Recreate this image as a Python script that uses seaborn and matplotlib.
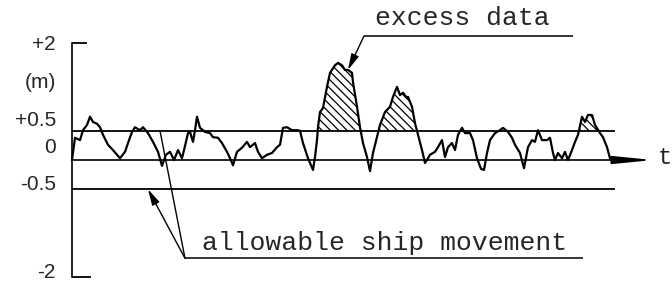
import numpy as np
import seaborn as sns
import matplotlib.pyplot as plt

sns.set_style("white")

# ship heave record (time in arbitrary units, height in m)
t = [0, 3, 8, 11, 15, 18, 21, 25, 28, 31,
     36, 41, 48, 53, 56, 60, 63, 68, 71, 76,
     81, 86, 90, 94, 98, 102, 106, 110, 113, 116,
     118, 121, 123, 125, 128, 133, 138, 141, 146, 150,
     155, 158, 161, 165, 170, 175, 178, 183, 186, 190,
     195, 200, 205, 208, 211, 215, 220, 225, 228, 231,
     236, 241, 243, 245, 246, 248, 251, 255, 258, 263,
     266, 270, 273, 276, 280, 281, 285, 288, 291, 295,
     298, 301, 305, 308, 313, 318, 321, 325, 328, 331,
     335, 336, 340, 343, 346, 350, 353, 356, 358, 363,
     366, 370, 373, 376, 380, 383, 386, 390, 393, 398,
     401, 405, 409, 412, 415, 418, 423, 428, 431, 436,
     440, 443, 448, 452, 456, 460, 463, 466, 470, 475,
     478, 481, 483, 486, 490, 493, 496, 500, 503, 506,
     510, 513, 516, 520, 523, 528, 531, 535, 538, 540]
height = [0.00, 0.38, 0.34, 0.51, 0.60, 0.74, 0.65, 0.62, 0.56, 0.43,
          0.26, 0.17, 0.03, 0.14, 0.29, 0.48, 0.56, 0.51, 0.56, 0.46,
          0.31, 0.14, -0.10, 0.09, 0.14, 0.00, 0.17, 0.03, 0.24, 0.46,
          0.48, 0.31, 0.51, 0.74, 0.55, 0.48, 0.46, 0.39, 0.38, 0.29,
          0.14, 0.03, -0.09, 0.14, 0.21, 0.31, 0.22, 0.29, 0.14, 0.03,
          0.09, 0.12, 0.22, 0.26, 0.55, 0.56, 0.51, 0.51, 0.50, 0.29,
          0.03, -0.17, 0.05, 0.34, 0.56, 0.82, 0.89, 1.25, 1.49, 1.62,
          1.66, 1.62, 1.54, 1.54, 1.49, 1.33, 0.91, 0.56, 0.29, 0.05,
          -0.19, 0.12, 0.39, 0.60, 0.82, 0.91, 1.08, 1.25, 1.11, 1.15,
          1.06, 1.08, 0.91, 0.63, 0.43, 0.17, -0.05, 0.03, 0.09, 0.14,
          0.22, 0.34, 0.05, 0.22, 0.29, 0.17, 0.43, 0.55, 0.46, 0.46,
          0.34, 0.03, -0.15, -0.17, 0.12, 0.34, 0.46, 0.51, 0.55, 0.48,
          0.38, 0.26, 0.12, -0.14, 0.22, 0.34, 0.31, 0.51, 0.34, 0.34,
          0.38, 0.12, 0.00, 0.12, 0.03, 0.14, 0.00, 0.17, 0.31, 0.43,
          0.74, 0.65, 0.77, 0.77, 0.60, 0.46, 0.39, 0.22, 0.03, 0.00]

allowable = [0.5, -0.5]
excess_spans = [(245, 290), (305, 345), (505, 530)]
time_ticks = [14, 169, 325, 481]
ylabels = ["+2", "(m)", "+0.5", "0", "-0.5", "-2"]
ylabel_pos = [1.97, 1.33, 0.68, 0.22, -0.41, -1.93]

t = np.array(t)
height = np.array(height)

fig = plt.figure(figsize=(6.72, 2.82), dpi=100)
ax = fig.add_axes([0, 0, 1, 1])
ax.set_xlim(-72, 600)
ax.set_ylim(-2.085, 2.735)

sns.lineplot(x=t, y=height, color="black", lw=1.6, ax=ax)

# hatched excess over the allowable band
mask = np.zeros(len(t), dtype=bool)
for a, b in excess_spans:
    mask |= (t >= a) & (t <= b)
mask &= height >= allowable[0]
plt.rcParams["hatch.linewidth"] = 0.9
ax.fill_between(t, allowable[0], height, where=mask, interpolate=True,
                facecolor="none", edgecolor="black", hatch="\\\\\\\\", linewidth=0)

# allowable band lines
ax.hlines(allowable, 0, 543, color="black", lw=1.3)

# axes
for s in ["top", "right"]:
    ax.spines[s].set_visible(False)
ax.spines["left"].set_position(("data", 0))
ax.spines["left"].set_bounds(-2, 2)
ax.spines["bottom"].set_position(("data", 0))
ax.spines["bottom"].set_bounds(0, 560)
for s in ["left", "bottom"]:
    ax.spines[s].set_color("black")
    ax.spines[s].set_linewidth(1.2)
ax.hlines([2], 0, 15, color="black", lw=1.3)
ax.hlines([-2], 0, 19, color="black", lw=1.3)
ax.set_xticks(time_ticks)
ax.set_xticklabels([])
ax.tick_params(axis="x", direction="inout", length=11, width=1, color="black")
ax.set_yticks([])
ax.annotate("", xy=(581, 0), xytext=(555, 0),
            arrowprops=dict(arrowstyle="-|>,head_length=1.2,head_width=0.12",
                            color="black", lw=1.2, shrinkA=0, shrinkB=0,
                            mutation_scale=20))
ax.text(586, 0.04, "t", fontsize=17, family="Liberation Mono", va="center", ha="left")

for lab, yp in zip(ylabels, ylabel_pos):
    ax.text(-16, yp, lab, fontsize=15, family="Liberation Sans", ha="right", va="center")

# annotations
mono = "Liberation Mono"
ax.text(390, 2.43, "excess data", fontsize=19, family=mono, ha="center", va="center")
ax.hlines([2.12], 292, 501, color="black", lw=1.1)
ax.annotate("", xy=(276, 1.54), xytext=(292, 2.12),
            arrowprops=dict(arrowstyle="-|>,head_length=0.8,head_width=0.2",
                            color="black", lw=1.0, shrinkA=0, shrinkB=0,
                            mutation_scale=12))

ax.text(313, -1.54, "allowable ship movement", fontsize=19, family=mono,
        ha="center", va="baseline")
ax.hlines([-1.68], 113, 511, color="black", lw=1.1)
ax.annotate("", xy=(76, -0.5), xytext=(113, -1.68),
            arrowprops=dict(arrowstyle="-|>,head_length=0.8,head_width=0.2",
                            color="black", lw=1.0, shrinkA=0, shrinkB=0,
                            mutation_scale=12))
ax.plot([113, 88], [-1.68, 0.5], color="black", lw=1.0)

fig.savefig("out.png", dpi=100)
